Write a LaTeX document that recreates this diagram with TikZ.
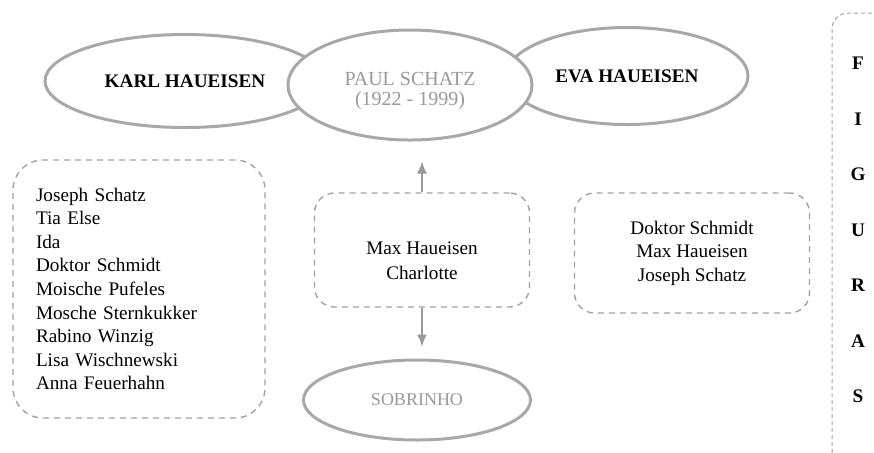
\documentclass[tikz,border=0pt]{standalone}
\usepackage{fontspec}
\setmainfont{Liberation Serif}
\usetikzlibrary{arrows.meta}
\usetikzlibrary{shapes.geometric}
\usetikzlibrary{positioning}

\definecolor{linha}{gray}{0.66}
\definecolor{traco}{gray}{0.63}
\definecolor{cinza}{gray}{0.6}
\newcommand{\fonte}{\fontsize{9.6}{11.8}\selectfont}

\begin{document}
\begin{tikzpicture}[
	x=0.5pt, y=-0.5pt,
  > = {Latex[length=6pt,width=5pt]},
  pessoa/.style = {ellipse,draw=linha,line width=1.5pt,fill=white,inner sep=0pt,align=center,font=\fonte\bfseries},
  grupo/.style = {draw=traco,dash pattern=on 3pt off 2.5pt,line width=0.7pt,rounded corners=10pt,inner sep=0pt,align=center,font=\fonte},
  seta/.style = {->,draw=cinza,line width=0.8pt},
  letra/.style = {font=\fonte\bfseries}
  ]
	\clip (0,0) rectangle (874,452);

	\node[pessoa,minimum width=140pt,minimum height=46.5pt] (karl) at (185,81) {KARL HAUEISEN};
	\node[pessoa,minimum width=121pt,minimum height=48.5pt] (eva) at (627,76) {EVA HAUEISEN};
	\node[pessoa,minimum width=122pt,minimum height=55pt,text=cinza,font=\fontsize{10}{10}\selectfont] (paul) at (410,85)
		{\rule{0pt}{13pt}PAUL SCHATZ\\(1922 - 1999)};
	\node[pessoa,minimum width=113.5pt,minimum height=40pt,text=cinza,font=\fontsize{9}{10}\selectfont] (sobrinho) at (417,400) {SOBRINHO};

	\node[grupo,rounded corners=15pt,text width=103pt,inner xsep=11.5pt,minimum height=129pt,align=left] (amigos) at (139,289)
		{Joseph Schatz\\Tia Else\\Ida\\Doktor Schmidt\\Moische Pufeles\\Mosche Sternkukker\\Rabino Winzig\\Lisa Wischnewski\\Anna Feuerhahn};
	\node[grupo,minimum width=107.5pt,minimum height=57pt,font=\fontsize{9.6}{12.8}\selectfont] (pais) at (422,250)
		{\rule{0pt}{17pt}Max Haueisen\\Charlotte};
	\node[grupo,minimum width=117.5pt,minimum height=60pt] (medicos) at (692,253)
		{Doktor Schmidt\\Max Haueisen\\Joseph Schatz};

	\draw[seta,shorten >=10pt] (pais.north) -- (pais.north |- paul.south);
	\draw[seta,shorten >=6pt] (pais.south) -- (pais.south |- sobrinho.north);

	\coordinate (fig) at (832,13);
	\draw[draw=traco,dash pattern=on 2pt off 1.5pt,line width=0.5pt,rounded corners=8pt] (fig |- 0,460) -- (fig) -- (900,13);
	\foreach \l [count=\i] in {F,I,G,U,R,A,S}
		\node[letra] (l\i) at (858,8+55.5*\i) {\l};

\end{tikzpicture}
\end{document}
